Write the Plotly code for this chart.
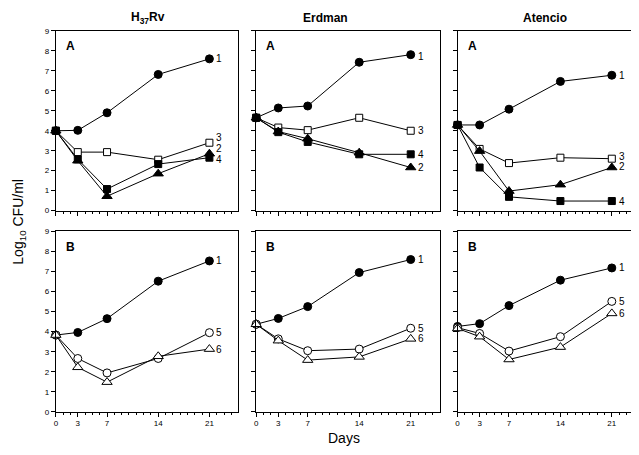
import plotly.graph_objects as go

days = [0, 3, 7, 14, 21]

strains = ["H<sub>37</sub>Rv", "Erdman", "Atencio"]

# Row A series: 1 (filled circle), 2 (filled triangle), 3 (open square), 4 (filled square)
A_s1 = [[4.0, 4.02, 4.9, 6.82, 7.6], [4.65, 5.14, 5.24, 7.43, 7.81], [4.29, 4.29, 5.08, 6.47, 6.78]]
A_s2 = [[4.0, 2.5, 0.72, 1.85, 2.85], [4.65, 3.96, 3.6, 2.9, 2.16], [4.29, 2.98, 0.98, 1.3, 2.16]]
A_s3 = [[4.0, 2.93, 2.93, 2.55, 3.4], [4.65, 4.16, 4.03, 4.65, 4.0], [4.29, 3.09, 2.38, 2.65, 2.6]]
A_s4 = [[4.0, 2.57, 1.08, 2.33, 2.65], [4.65, 3.93, 3.44, 2.82, 2.82], [4.29, 2.16, 0.69, 0.48, 0.48]]

# Row B series: 1 (filled circle), 5 (open circle), 6 (open triangle)
B_s1 = [[3.83, 3.96, 4.65, 6.52, 7.53], [4.37, 4.66, 5.25, 6.95, 7.6], [4.26, 4.4, 5.3, 6.57, 7.18]]
B_s5 = [[3.83, 2.66, 1.94, 2.66, 3.95], [4.37, 3.64, 3.05, 3.13, 4.17], [4.2, 3.91, 3.03, 3.75, 5.51]]
B_s6 = [[3.83, 2.22, 1.48, 2.77, 3.13], [4.37, 3.55, 2.58, 2.74, 3.64], [4.16, 3.75, 2.61, 3.23, 4.91]]

x_ticks = [0, 3, 7, 14, 21]
y_ticks = list(range(0, 10))

# end-label vertical nudges (pixels) per panel
A_label_shift = [
    {"1": 0, "2": 5, "3": 5.5, "4": -2},
    {"1": -2, "2": 0, "3": 0, "4": 0},
    {"1": 0, "2": 0.5, "3": 2.7, "4": 0},
]
B_label_shift = [
    {"1": 0, "5": 0, "6": 0},
    {"1": 0, "5": 0, "6": 0},
    {"1": 0, "5": 0, "6": 0},
]

FONT = "Liberation Sans, Arial, Helvetica, sans-serif"

# page is drawn with an 8px body margin: work in page pixels and convert
OFF = 8
W, H = 639 - OFF, 455 - OFF


def px(p):
    return max(0.0, min(1.0, (p - OFF) / W))


def py(p):
    return max(0.0, min(1.0, 1 - (p - OFF) / H))


x_edges = [(54, 237), (255, 439), (457, 639)]
top_edges = (27.3, 210.7)
bot_edges = (232, 416)
xmax = [24.95, 24.93, 24.7]

fig = go.Figure()

styles = {
    "1": dict(symbol="circle", size=8, color="black", line=dict(color="black", width=1)),
    "2": dict(symbol="triangle-up", size=9, color="black", line=dict(color="black", width=1)),
    "3": dict(symbol="square", size=7, color="white", line=dict(color="black", width=1)),
    "4": dict(symbol="square", size=7, color="black", line=dict(color="black", width=1)),
    "5": dict(symbol="circle", size=8, color="white", line=dict(color="black", width=1)),
    "6": dict(symbol="triangle-up", size=9, color="white", line=dict(color="black", width=1)),
}

annotations = []
layout_axes = {}


def add_panel(idx, xe, ye, series, shifts, letter, show_xlabels, show_ylabels, col):
    xa = "x" if idx == 1 else f"x{idx}"
    ya = "y" if idx == 1 else f"y{idx}"
    for name, vals in series:
        fig.add_trace(go.Scatter(
            x=days, y=vals, mode="lines+markers", xaxis=xa, yaxis=ya,
            line=dict(color="black", width=1), marker=styles[name],
            cliponaxis=False, showlegend=False, hoverinfo="skip"))
        annotations.append(dict(
            x=days[-1], y=vals[-1], xref=xa, yref=ya, text=name, showarrow=False,
            xanchor="left", yanchor="middle", xshift=6, yshift=shifts[name],
            borderpad=0, font=dict(family=FONT, size=10, color="#000000")))
    annotations.append(dict(
        x=0.045, y=0.915, xref=f"{xa} domain", yref=f"{ya} domain", text=f"<b>{letter}</b>",
        showarrow=False, xanchor="left", yanchor="middle",
        font=dict(family=FONT, size=12, color="black")))
    layout_axes["xaxis" if idx == 1 else f"xaxis{idx}"] = dict(
        domain=[px(xe[0]), px(xe[1])], anchor=ya, range=[0, xmax[col]], tickvals=x_ticks,
        ticktext=[str(t) for t in x_ticks], showticklabels=show_xlabels,
        ticks="outside", ticklen=4, tickwidth=1, tickcolor="black",
        minor=dict(ticks="outside", ticklen=2, dtick=1, tick0=0, tickcolor="black", tickwidth=1),
        showline=True, mirror=True, linecolor="black", linewidth=1,
        showgrid=False, zeroline=False,
        tickfont=dict(family=FONT, size=8, color="black"))
    layout_axes["yaxis" if idx == 1 else f"yaxis{idx}"] = dict(
        domain=[py(ye[1]), py(ye[0])], anchor=xa, range=[0, 9], tickvals=y_ticks,
        showticklabels=show_ylabels,
        ticks="outside", ticklen=4, tickwidth=1, tickcolor="black",
        showline=True, mirror=(col != 2), linecolor="black", linewidth=1,
        showgrid=False, zeroline=False,
        tickfont=dict(family=FONT, size=8, color="black"))


idx = 1
for c in range(3):
    add_panel(idx, x_edges[c], top_edges,
              [("1", A_s1[c]), ("3", A_s3[c]), ("4", A_s4[c]), ("2", A_s2[c])],
              A_label_shift[c], "A", False, c == 0, c)
    idx += 1
for c in range(3):
    add_panel(idx, x_edges[c], bot_edges,
              [("1", B_s1[c]), ("5", B_s5[c]), ("6", B_s6[c])],
              B_label_shift[c], "B", True, c == 0, c)
    idx += 1

title_px = [146, 325, 545]
for c in range(3):
    annotations.append(dict(
        x=px(title_px[c]), y=py(14), xref="paper", yref="paper", text=f"<b>{strains[c]}</b>",
        showarrow=False, xanchor="center", yanchor="middle",
        font=dict(family=FONT, size=12, color="black")))

annotations.append(dict(
    x=px(17), y=py(222), xref="paper", yref="paper",
    text="Log<sub>10</sub> CFU/ml", textangle=-90, showarrow=False,
    xanchor="center", yanchor="middle", font=dict(family=FONT, size=14, color="black")))
annotations.append(dict(
    x=px(343), y=py(443), xref="paper", yref="paper",
    text="Days", showarrow=False, xanchor="center", yanchor="middle",
    font=dict(family=FONT, size=14, color="black")))

fig.update_layout(
    width=W, height=H, margin=dict(l=0, r=0, t=0, b=0),
    paper_bgcolor="white", plot_bgcolor="white",
    annotations=annotations, **layout_axes)

fig.write_html("out.html")
